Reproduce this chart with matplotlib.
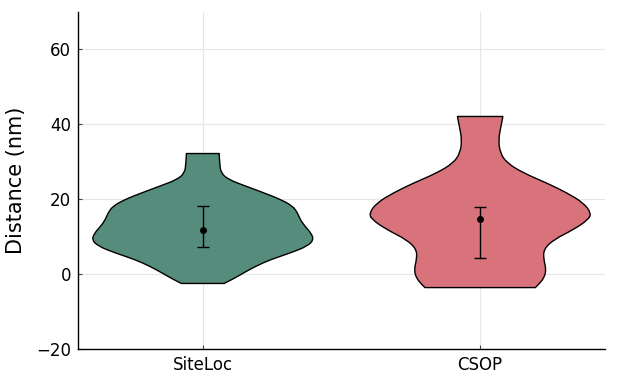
import numpy as np
import matplotlib
matplotlib.use("Agg")
import matplotlib.pyplot as plt
from matplotlib.path import Path
from matplotlib.patches import PathPatch

# ── data ──
CATEGORIES = ["SiteLoc", "CSOP"]
COLORS = ["#568c7c", "#d8737b"]

# violin outline: distance (nm) vs half-width (x units, max 0.4)
SITELOC_Y = [-2.5, -1.4, 0.4, 2.1, 3.9, 5.7, 7.5, 9.2, 11.0, 12.8, 14.6, 16.3,
             18.1, 19.9, 21.7, 23.5, 25.2, 27.0, 29.7, 32.2]
SITELOC_W = [0.077, 0.107, 0.149, 0.191, 0.245, 0.318, 0.378, 0.400, 0.390, 0.368,
             0.351, 0.342, 0.325, 0.282, 0.220, 0.155, 0.094, 0.065, 0.061, 0.059]
CSOP_Y = [-3.6, -2.8, -1.0, 1.3, 3.9, 6.6, 9.2, 11.9, 14.6, 16.3, 19.0, 21.7,
          24.3, 27.0, 29.7, 32.4, 35.9, 39.5, 42.1]
CSOP_W = [0.199, 0.210, 0.231, 0.238, 0.229, 0.229, 0.265, 0.337, 0.391, 0.400,
          0.373, 0.313, 0.241, 0.156, 0.096, 0.072, 0.066, 0.075, 0.082]

# centre dot + error bar ends
CENTER = [11.7, 14.7]
LOW = [7.3, 4.4]
HIGH = [18.1, 17.9]


def smooth_path(xs, ys):
    """quadratic curve through the knots (midpoint B-spline)."""
    verts = [(xs[0], ys[0])]
    codes = [Path.MOVETO]
    for i in range(1, len(xs) - 1):
        verts += [(xs[i], ys[i]), ((xs[i] + xs[i + 1]) / 2, (ys[i] + ys[i + 1]) / 2)]
        codes += [Path.CURVE3, Path.CURVE3]
    verts.append((xs[-1], ys[-1]))
    codes.append(Path.LINETO)
    return verts, codes


def violin(ax, x0, ys, ws, color):
    ys, ws = np.asarray(ys), np.asarray(ws)
    # right side bottom→top, then left side top→bottom
    rx, ry = x0 + ws, ys
    lx, ly = (x0 - ws)[::-1], ys[::-1]
    v1, c1 = smooth_path(rx, ry)
    v2, c2 = smooth_path(lx, ly)
    c2[0] = Path.LINETO
    verts = v1 + v2 + [v1[0]]
    codes = c1 + c2 + [Path.CLOSEPOLY]
    ax.add_patch(PathPatch(Path(verts, codes), fc=color, ec="black", lw=1.0, zorder=2))


fig = plt.figure(figsize=(6.17, 3.79), dpi=100)
ax = fig.add_axes([0.1264, 0.0792, 0.8541, 0.8891])

xpos = np.arange(len(CATEGORIES)) + 0.5
violin(ax, xpos[0], SITELOC_Y, SITELOC_W, COLORS[0])
violin(ax, xpos[1], CSOP_Y, CSOP_W, COLORS[1])

c = np.array(CENTER)
yerr = [c - np.array(LOW), np.array(HIGH) - c]
ax.errorbar(xpos, c, yerr=yerr, fmt="o", color="black", ms=4, lw=1,
            capsize=4, capthick=1, zorder=3)

ax.set_xlim(0.05, 1.95)
ax.set_ylim(-20, 70)
ax.set_xticks(xpos)
ax.set_xticklabels(CATEGORIES)
ax.set_yticks([-20, 0, 20, 40, 60])
ax.set_yticklabels(["\u221220", "0", "20", "40", "60"])
ax.tick_params(labelsize=12, direction="in", length=3, width=0.8,
               color="#444444", pad=5)
ax.set_ylabel("Distance (nm)", fontsize=15, labelpad=7)
ax.grid(color="#e6e6e6", lw=0.8, zorder=0)
ax.set_axisbelow(True)
for s in ("top", "right"):
    ax.spines[s].set_visible(False)
for s in ("left", "bottom"):
    ax.spines[s].set_linewidth(1.0)

fig.savefig("out.png", dpi=100)
